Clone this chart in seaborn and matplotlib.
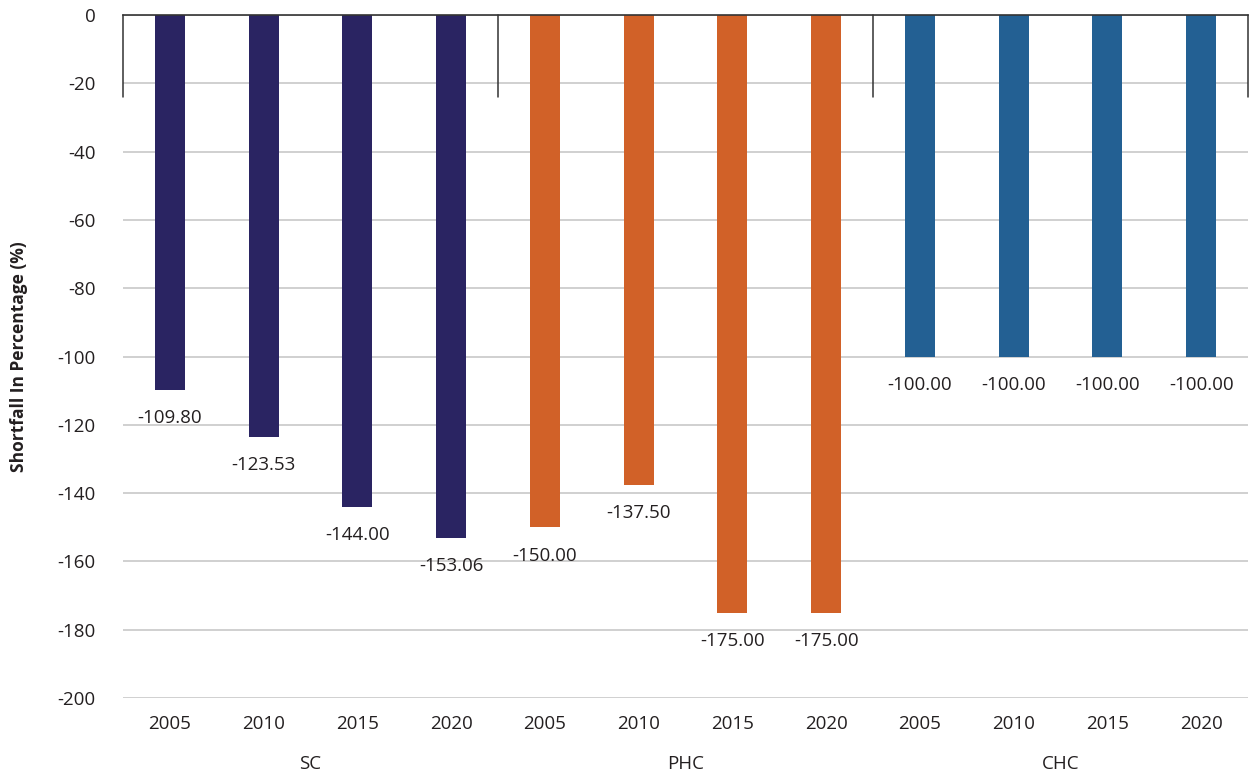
import matplotlib
matplotlib.use("Agg")
import matplotlib.pyplot as plt
import seaborn as sns
import pandas as pd

# Shortfall data per facility type and year
groups = ["SC", "PHC", "CHC"]
years = ["2005", "2010", "2015", "2020"]
sc_values = [-109.80, -123.53, -144.00, -153.06]
phc_values = [-150.00, -137.50, -175.00, -175.00]
chc_values = [-100.00, -100.00, -100.00, -100.00]
colors = {"SC": "#2a2462", "PHC": "#d16128", "CHC": "#236093"}

rows = []
for g, vals in zip(groups, [sc_values, phc_values, chc_values]):
    for y, v in zip(years, vals):
        rows.append({"slot": f"{g}-{y}", "group": g, "year": y, "value": v})
df = pd.DataFrame(rows)

sns.set_theme(style="white")
plt.rcParams["font.family"] = ["Open Sans", "DejaVu Sans"]

fig = plt.figure(figsize=(12.57, 7.73), dpi=100)
ax = fig.add_axes([0.0979, 0.0970, 0.8949, 0.8836])

sns.barplot(data=df, x="slot", y="value", hue="group", palette=colors,
            dodge=False, width=0.32, legend=False, ax=ax, saturation=1,
            linewidth=0)

ax.set_ylim(-200, 0)
ax.set_xlim(-0.5, len(df) - 0.5)
ax.set_yticks(range(-200, 1, 20))
ax.set_yticklabels([str(t) for t in range(-200, 1, 20)], fontsize=13.5, color="#231f20")
ax.yaxis.grid(True, color="#c4c4c4", linewidth=1.1)
ax.set_axisbelow(True)

for s in ["left", "right", "bottom"]:
    ax.spines[s].set_visible(False)
ax.spines["top"].set_visible(True)
ax.spines["top"].set_color("#333333")
ax.spines["top"].set_linewidth(1.2)

# Group separators hanging from the zero line
for xb in [-0.5, 3.5, 7.5, 11.5]:
    ax.plot([xb, xb], [0, -24], color="#333333", linewidth=1.1, clip_on=False)

ax.set_xticks(range(len(df)))
ax.set_xticklabels(df["year"], fontsize=13.5, color="#231f20")
ax.tick_params(axis="x", length=0, pad=12)
ax.tick_params(axis="y", length=0, pad=20)
ax.set_xlabel("")
ax.set_ylabel("Shortfall In Percentage (%)", fontsize=12.5, fontweight="bold",
              color="#231f20", labelpad=21)

for i, g in enumerate(groups):
    ax.text(i * 4 + 1.5, -0.097, g, transform=ax.get_xaxis_transform(),
            ha="center", va="center", fontsize=13.5, color="#231f20")

for cont in ax.containers:
    ax.bar_label(cont, fmt="%.2f", padding=14, fontsize=13.5, color="#231f20")

fig.savefig("out.png", dpi=100)
